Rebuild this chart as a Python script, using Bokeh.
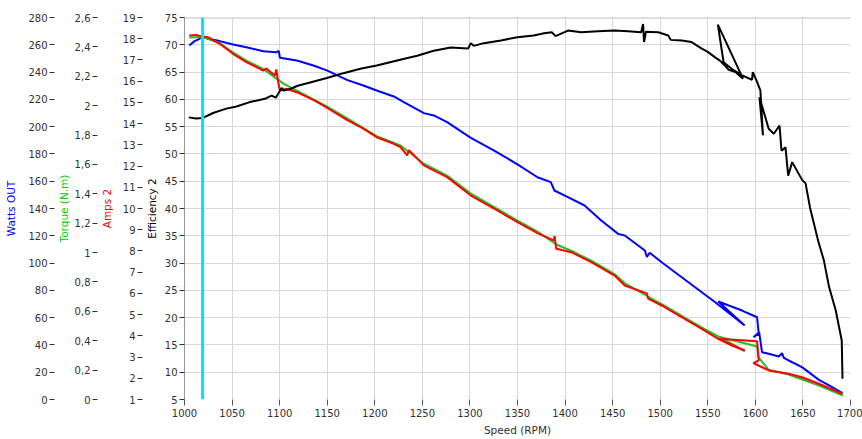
from bokeh.plotting import figure
from bokeh.models import Range1d, LinearAxis, FixedTicker, Span, CustomJSTickFormatter
from bokeh.embed import file_html
from bokeh.resources import INLINE

# ---------------- data ----------------
eff_speed = [1004.5, 1012, 1019.3, 1030, 1044, 1054.6, 1068.6, 1084.5, 1091.5, 1096, 1102, 1104, 1111,
             1119, 1132, 1149.6, 1167, 1184.8, 1202, 1216, 1230, 1244.6, 1262, 1279.8, 1298, 1301,
             1304, 1314.6, 1332.6, 1350, 1367, 1378, 1386, 1390, 1403, 1417, 1435, 1452, 1466, 1480,
             1482, 1483, 1485, 1498, 1508.5, 1511, 1522.6, 1533, 1543.7, 1550, 1557.7, 1562, 1568,
             1572, 1579, 1587, 1560.6, 1566.6, 1575, 1586, 1596.5, 1597.3, 1601.8, 1605.3, 1608,
             1604.3, 1614, 1619.4, 1625.4, 1627.5, 1631.7, 1634.5, 1638.7, 1649.3, 1652.8, 1657.4,
             1666, 1672, 1677.5, 1684.5, 1690.8, 1691.6]
eff_value = [56.7, 56.5, 56.6, 57.5, 58.3, 58.7, 59.5, 60.1, 60.7, 60.3, 62.1, 61.6, 61.9,
             62.5, 63.1, 63.9, 64.8, 65.6, 66.2, 66.8, 67.4, 68.0, 68.9, 69.5, 69.3, 70.3,
             69.8, 70.3, 70.8, 71.4, 71.7, 72.1, 72.3, 71.6, 72.6, 72.3, 72.5, 72.6, 72.5, 72.3,
             73.8, 70.5, 72.4, 72.3, 71.7, 70.9, 70.8, 70.5, 69.3, 68.7, 67.7, 67.2, 66.2,
             65.4, 65.0, 63.8, 73.7, 66.8, 65.6, 64.4, 63.6, 65.0, 63.2, 61.6, 53.4,
             60.4, 54.6, 53.7, 55.2, 50.6, 51.2, 46.0, 48.5, 45.2, 44.6, 40.2,
             34.1, 30.5, 25.6, 21.3, 15.8, 8.8]

watts_speed = [1005, 1010.6, 1015.8, 1019.3, 1024.6, 1037, 1051, 1065, 1082.7, 1096.8, 1099, 1100.3,
               1118, 1135.5, 1149.6, 1170.7, 1188, 1202, 1220, 1230.5, 1251.6, 1262, 1276, 1301,
               1325.5, 1350, 1371, 1385, 1388.8, 1403, 1420.5, 1438, 1455.8, 1462.7, 1483.9, 1486,
               1489, 1501.5, 1522.6, 1543.7, 1557.8, 1575.4, 1588.8, 1561, 1586, 1601.8, 1603.6,
               1598, 1604, 1607, 1614, 1624.6, 1628, 1630, 1635, 1649, 1666.8, 1677.5, 1691.6]
watts_value = [259.5, 262.7, 264.4, 266.1, 264.4, 262.7, 260.2, 258.2, 255.3, 254.6, 255.5, 250.5,
               248.5, 244.8, 241.2, 234.3, 230.2, 226.5, 222.1, 218.0, 209.9, 208.2, 203.3, 191.8,
               182.5, 172.3, 162.9, 159.3, 153.2, 148.3, 142.2, 131.2, 121.4, 120.2, 109.2, 104.5,
               107.5, 100.6, 89.6, 78.6, 71.3, 61.6, 54.2, 71.8, 65.2, 60.3, 48.2,
               45.7, 49.3, 34.7, 33.5, 31.5, 33.9, 30.5, 28.6, 23.7, 14.4, 10.3, 4.6]

amps_speed = [1005, 1012, 1019, 1024.6, 1037, 1051, 1065, 1082.7, 1086, 1095, 1096.5, 1098.5, 1100.3,
              1107, 1118, 1135.5, 1149.6, 1170.7, 1188, 1202, 1220, 1227, 1234, 1236, 1251.6, 1276,
              1301, 1325.5, 1350, 1371, 1388, 1389, 1390.7, 1406.5, 1427.6, 1452, 1462.7, 1486,
              1487.4, 1501.5, 1522.6, 1543.7, 1561, 1575.4, 1588.8, 1561, 1601.8, 1603.6, 1598,
              1607, 1614, 1635, 1649, 1666.8, 1691.6]
amps_value = [18.15, 18.18, 18.10, 18.07, 17.76, 17.29, 16.90, 16.50, 16.60, 16.27, 16.55, 15.95, 15.56,
              15.64, 15.48, 15.12, 14.75, 14.18, 13.76, 13.36, 13.05, 12.89, 12.50, 12.75, 12.03, 11.48,
              10.61, 9.99, 9.36, 8.84, 8.50, 8.70, 8.10, 7.94, 7.47, 6.84, 6.37, 6.00,
              5.75, 5.43, 4.88, 4.33, 3.86, 3.54, 3.31, 3.86, 3.75, 2.84, 2.71,
              2.52, 2.37, 2.21, 2.05, 1.74, 1.27]

torque_speed = [1005, 1019, 1037, 1051, 1065, 1083, 1104, 1118, 1150, 1171, 1202, 1227, 1252, 1276,
                1301, 1326, 1350, 1371, 1391, 1407, 1428, 1452, 1463, 1487, 1502, 1523, 1544, 1561,
                1575, 1589, 1561, 1602, 1603, 1614, 1635, 1667, 1692]
torque_value = [2.464, 2.467, 2.426, 2.362, 2.307, 2.249, 2.150, 2.103, 1.994, 1.913, 1.793, 1.729,
                1.603, 1.524, 1.402, 1.307, 1.218, 1.143, 1.055, 1.011, 0.943, 0.854, 0.790, 0.701,
                0.647, 0.568, 0.490, 0.429, 0.381, 0.327, 0.429, 0.361, 0.288, 0.202, 0.170, 0.095,
                0.027]

cursor_speed = 1019

x_ticks = [1000, 1050, 1100, 1150, 1200, 1250, 1300, 1350, 1400, 1450, 1500, 1550, 1600, 1650, 1700]
eff_ticks = [5, 10, 15, 20, 25, 30, 35, 40, 45, 50, 55, 60, 65, 70, 75]
amps_ticks = list(range(1, 20))
torque_ticks = [0, 0.2, 0.4, 0.6, 0.8, 1.0, 1.2, 1.4, 1.6, 1.8, 2.0, 2.2, 2.4, 2.6]
watts_ticks = list(range(0, 281, 20))

# ---------------- styling ----------------
FONT = "DejaVu Sans"
LBL = "#303030"
GRID = "#d8d8d8"

p = figure(width=862, height=439, output_backend="svg", toolbar_location=None,
           x_range=Range1d(1000, 1700), y_range=Range1d(5, 75),
           min_border_top=17, min_border_right=12, min_border_bottom=40, min_border_left=184,
           background_fill_color="white", border_fill_color="white")
p.outline_line_color = None
p.extra_y_ranges = {"amps": Range1d(1, 19), "torque": Range1d(0, 2.6), "watts": Range1d(0, 280)}


def style_axis(ax, title, color, standoff):
    ax.axis_label = title
    ax.axis_label_text_color = color
    ax.axis_label_text_font = FONT
    ax.axis_label_text_font_size = "10.5px"
    ax.axis_label_text_font_style = "normal"
    ax.axis_label_standoff = standoff
    ax.major_label_text_font = FONT
    ax.major_label_text_font_size = "10px"
    ax.major_label_text_color = LBL
    ax.major_label_standoff = 2
    ax.major_tick_in = 0
    ax.major_tick_out = 5
    ax.major_tick_line_color = LBL
    ax.minor_tick_line_color = None


# efficiency axis (default, nearest to the frame)
ey = p.yaxis[0]
ey.ticker = FixedTicker(ticks=eff_ticks)
style_axis(ey, "Efficiency 2", "#000000", 4)
ey.axis_line_color = "#9a9a9a"

ay = LinearAxis(y_range_name="amps", ticker=FixedTicker(ticks=amps_ticks))
style_axis(ay, "Amps 2", "#ff0000", 7)
ay.axis_line_color = None
p.add_layout(ay, "left")

ty = LinearAxis(y_range_name="torque", ticker=FixedTicker(ticks=torque_ticks),
                formatter=CustomJSTickFormatter(code="""
                    let s = tick.toFixed(1);
                    if (s.endsWith('.0')) { s = s.slice(0, -2); }
                    return s.replace('.', ',');"""))
style_axis(ty, "Torque (N.m)", "#00cc00", 2)
ty.axis_line_color = None
p.add_layout(ty, "left")

wy = LinearAxis(y_range_name="watts", ticker=FixedTicker(ticks=watts_ticks))
style_axis(wy, "Watts OUT", "#0000ff", 8)
wy.axis_line_color = None
p.add_layout(wy, "left")

xa = p.xaxis[0]
xa.ticker = FixedTicker(ticks=x_ticks)
xa.axis_label = "Speed (RPM)"
xa.axis_label_text_font = FONT
xa.axis_label_text_font_size = "10.5px"
xa.axis_label_text_font_style = "normal"
xa.axis_label_text_color = LBL
xa.axis_label_standoff = 4
xa.major_label_text_font = FONT
xa.major_label_text_font_size = "10px"
xa.major_label_text_color = LBL
xa.major_label_standoff = 3
xa.major_tick_in = 0
xa.major_tick_out = 6
xa.major_tick_line_color = "#555555"
xa.minor_tick_line_color = None
xa.axis_line_color = None

p.xgrid.ticker = FixedTicker(ticks=x_ticks[1:-1])
p.ygrid.ticker = FixedTicker(ticks=eff_ticks[1:-1])
p.xgrid.grid_line_color = GRID
p.ygrid.grid_line_color = GRID

p.add_layout(Span(location=75, dimension="width", line_color="#bdbdbd", line_width=2, level="underlay"))

# ---------------- series ----------------
p.line(watts_speed, watts_value, y_range_name="watts", line_color="#0000ff", line_width=2)
p.line(torque_speed, torque_value, y_range_name="torque", line_color="#22c022", line_width=2)
p.line(amps_speed, amps_value, y_range_name="amps", line_color="#ff0000", line_width=2)
p.line(eff_speed, eff_value, line_color="#000000", line_width=2)

p.add_layout(Span(location=cursor_speed, dimension="height", line_color="#00e5f5", line_width=3))

open("out.html", "w").write(file_html(p, INLINE))
